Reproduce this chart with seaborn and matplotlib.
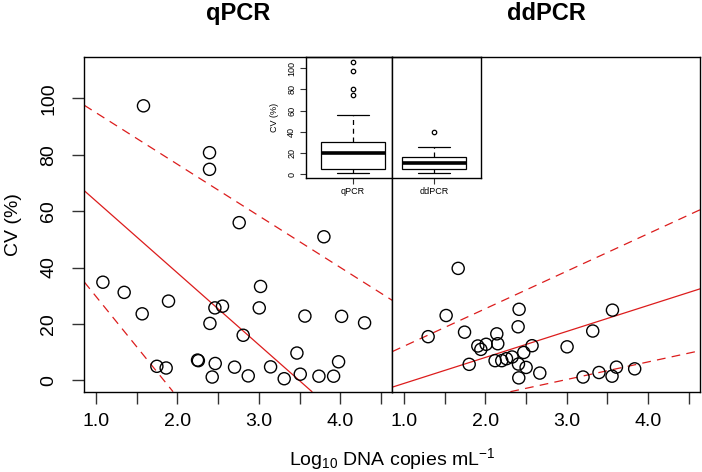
"""Coefficient of variation vs. DNA concentration for qPCR and ddPCR, with boxplot inset."""

import matplotlib

matplotlib.use("Agg")
import matplotlib.pyplot as plt
import pandas as pd
import seaborn as sns

# qPCR scatter (log10 copies/mL, CV %)
qpcr_log_copies = [1.584, 2.394, 2.394, 2.758, 3.797, 1.086, 1.347, 1.568, 1.891, 1.748,
                   1.862, 2.247, 2.257, 2.399, 2.460, 2.553, 2.427, 2.464, 2.807, 2.701,
                   2.869, 3.020, 3.004, 3.143, 3.310, 3.466, 3.507, 3.564, 3.736, 3.916,
                   3.977, 4.014, 4.296]
qpcr_cv = [97.3, 80.7, 74.8, 55.9, 50.9, 34.8, 31.2, 23.6, 28.1, 5.0,
           4.4, 7.2, 7.0, 20.2, 25.7, 26.3, 1.2, 6.0, 16.0, 4.7,
           1.6, 33.3, 25.7, 4.8, 0.6, 9.7, 2.2, 22.8, 1.5, 1.5,
           6.6, 22.7, 20.4]

# ddPCR scatter
ddpcr_log_copies = [1.298, 1.519, 1.745, 1.802, 1.908, 1.945, 2.010, 2.141, 2.153, 2.120,
                    2.202, 2.260, 2.329, 2.415, 2.403, 2.407, 2.411, 2.472, 2.501, 2.574,
                    2.669, 3.004, 3.319, 3.561, 3.200, 3.396, 3.556, 3.610, 3.834, 1.667]
ddpcr_cv = [15.5, 23.0, 17.1, 5.7, 12.2, 11.0, 12.8, 16.5, 13.0, 7.0,
            7.0, 7.7, 8.3, 25.2, 19.0, 5.8, 0.9, 9.9, 4.6, 12.3,
            2.6, 11.9, 17.5, 24.9, 1.2, 2.8, 1.5, 4.7, 4.1, 39.7]

# the inset boxplot shows one more qPCR value than the scatter
inset_qpcr_extra = [106.0]

# fitted line and dashed bounds: (intercept, slope)
qpcr_fit = (89.1, -25.5)
qpcr_upper = (113.2, -18.3)
qpcr_lower = (65.5, -35.7)
ddpcr_fit = (-10.3, 9.22)
ddpcr_upper = (-1.2, 13.3)
ddpcr_lower = (-18.4, 6.24)

x_ticks = [1.0, 1.5, 2.0, 2.5, 3.0, 3.5, 4.0, 4.5]
x_tick_labels = ["1.0", "", "2.0", "", "3.0", "", "4.0", ""]
y_ticks = [0, 20, 40, 60, 80, 100]
inset_y_ticks = [0, 20, 40, 60, 80, 100]

RED = "#dc1c1c"
W, H = 702, 472

sns.set_style("ticks")
plt.rcParams["font.family"] = ["Liberation Sans", "DejaVu Sans"]
plt.rcParams["mathtext.default"] = "regular"
plt.rcParams["text.color"] = "black"
plt.rcParams["xtick.labelcolor"] = "black"
plt.rcParams["ytick.labelcolor"] = "black"
plt.rcParams["axes.labelcolor"] = "black"


def px_box(x0, y0, x1, y1):
    return [x0 / W, 1 - y1 / H, (x1 - x0) / W, (y1 - y0) / H]


def style_main(ax):
    ax.set_xlim(0.858, 4.636)
    ax.set_ylim(-4.0, 114.5)
    ax.set_xticks(x_ticks)
    ax.set_xticklabels(x_tick_labels)
    ax.tick_params(axis="both", direction="out", length=8.6, width=1.0,
                   color="#333333", labelcolor="black", labelsize=14)
    ax.tick_params(axis="x", pad=7)
    ax.tick_params(axis="y", pad=11)
    for sp in ax.spines.values():
        sp.set_visible(True)
        sp.set_color("black")
        sp.set_linewidth(1.0)
    ax.set_xlabel("")
    ax.set_ylabel("")


def draw_panel(ax, x, y, fit, upper, lower, title):
    sns.scatterplot(x=x, y=y, ax=ax, marker="o", s=76, facecolor="none",
                    edgecolor="black", linewidth=1.0, zorder=3)
    ax.axline((0, fit[0]), slope=fit[1], color=RED, lw=0.9)
    for b, m in (upper, lower):
        ax.axline((0, b), slope=m, color=RED, lw=0.9, dashes=(7, 5))
    style_main(ax)
    ax.set_title(title, fontsize=17, fontweight="bold", pad=27, color="black")


fig = plt.figure(figsize=(W / 100, H / 100), dpi=100)
ax_l = fig.add_axes(px_box(84.3, 57.3, 392.3, 391.7))
ax_r = fig.add_axes(px_box(392.3, 57.3, 700, 391.7))

draw_panel(ax_l, qpcr_log_copies, qpcr_cv, qpcr_fit, qpcr_upper, qpcr_lower, "qPCR")
draw_panel(ax_r, ddpcr_log_copies, ddpcr_cv, ddpcr_fit, ddpcr_upper, ddpcr_lower, "ddPCR")

ax_l.set_yticks(y_ticks)
ax_l.set_yticklabels([str(t) for t in y_ticks], rotation=90, va="center")
ax_r.set_yticks(y_ticks)
ax_r.tick_params(axis="y", left=False, labelleft=False)

fig.text(392.3 / W, 1 - 465 / H, r"Log$_{10}$ DNA copies mL$^{-1}$",
         ha="center", va="baseline", fontsize=14)
fig.text(14 / W, 1 - 224.5 / H, "CV (%)", rotation=90, ha="center",
         va="center", fontsize=14)

# inset boxplot
box_df = pd.DataFrame({
    "method": ["qPCR"] * (len(qpcr_cv) + len(inset_qpcr_extra)) + ["ddPCR"] * len(ddpcr_cv),
    "cv": qpcr_cv + inset_qpcr_extra + ddpcr_cv,
})
inset = fig.add_axes(px_box(306, 57.3, 481, 177.7))
inset.set_facecolor("none")
sns.boxplot(data=box_df, x="method", y="cv", ax=inset, width=0.8, color="white",
            linecolor="black", linewidth=0.9, fliersize=3.2,
            flierprops=dict(marker="o", markerfacecolor="none",
                            markeredgecolor="black", markeredgewidth=0.9),
            whiskerprops=dict(linestyle=(0, (4, 3))),
            medianprops=dict(linewidth=2.6, color="black"))
inset.set_xlim(-0.58, 1.58)
inset.set_ylim(-3.5, 110.4)
inset.set_yticks(inset_y_ticks)
inset.set_yticklabels([str(t) for t in inset_y_ticks], rotation=90, va="center")
inset.tick_params(axis="both", direction="out", length=4, width=0.8,
                  labelsize=6.5, pad=3, color="#333333", labelcolor="black")
inset.set_xlabel("")
inset.set_ylabel("CV (%)", fontsize=6.5, labelpad=6, color="black")
for sp in inset.spines.values():
    sp.set_visible(True)
    sp.set_color("black")
    sp.set_linewidth(1.0)

fig.savefig("out.png", dpi=100)
